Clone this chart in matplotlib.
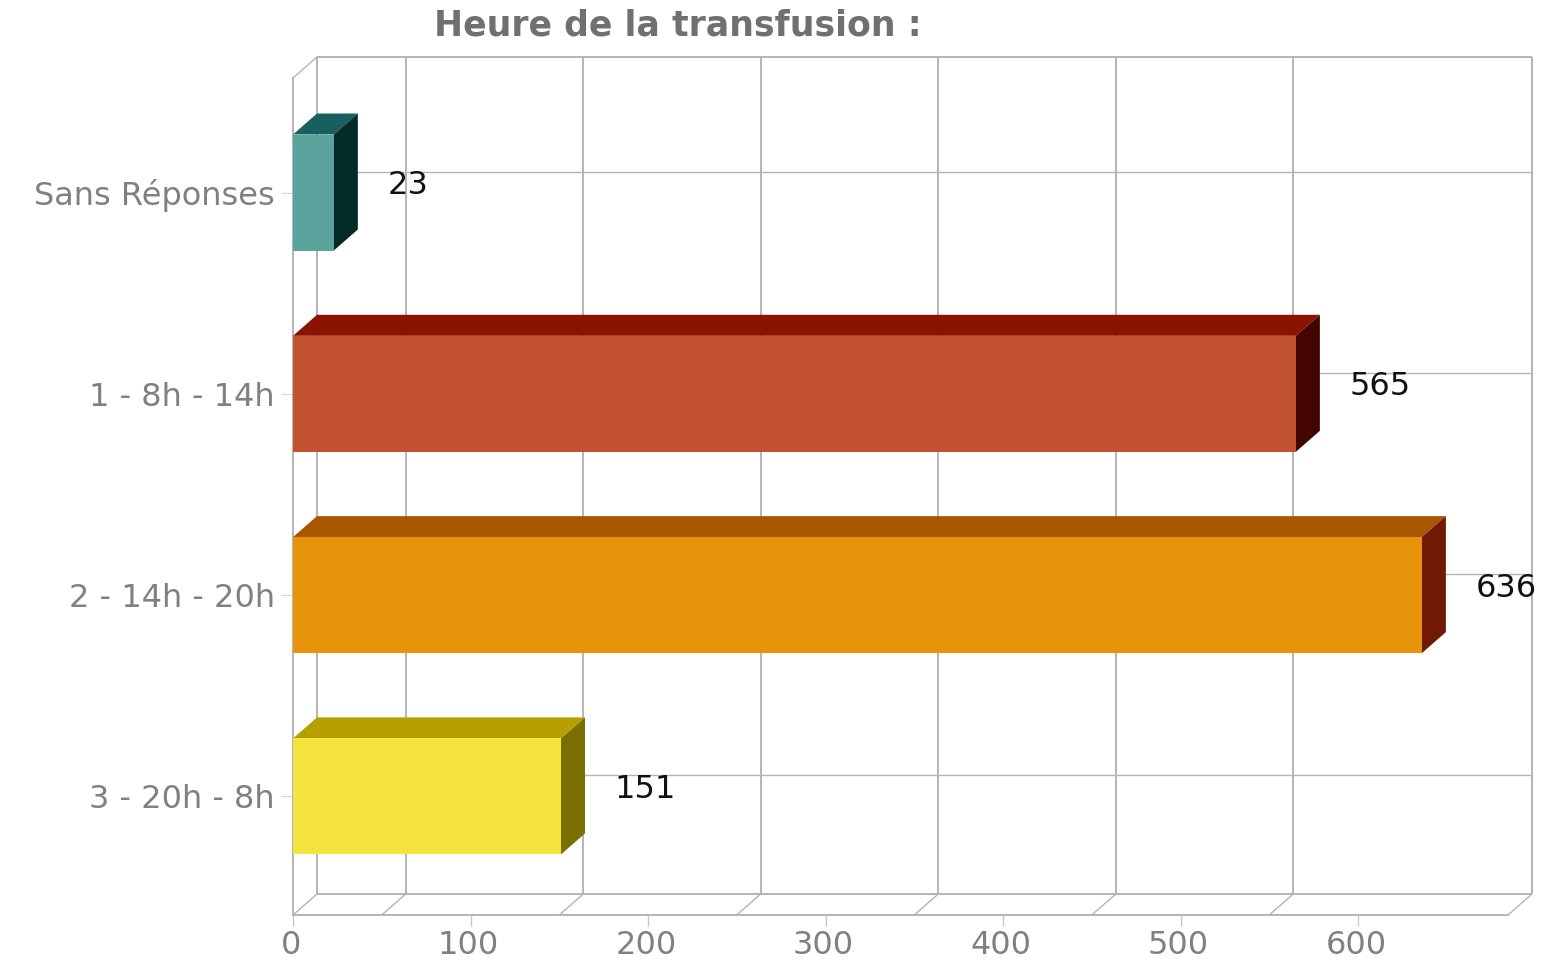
import matplotlib
matplotlib.use("Agg")
import matplotlib.pyplot as plt
from matplotlib.patches import Polygon
from matplotlib.transforms import ScaledTranslation
import numpy as np

plt.rcParams["font.family"] = ["DejaVu Sans"]

categories = ["Sans Réponses", "1 - 8h - 14h", "2 - 14h - 20h", "3 - 20h - 8h"]
values = [23, 565, 636, 151]
front_colors = ["#5AA39C", "#C25230", "#E8940A", "#F5E33F"]
top_colors = ["#17605F", "#8B1400", "#AA5600", "#B5A000"]
side_colors = ["#042A28", "#420500", "#701A05", "#7A6E00"]
title = "Heure de la transfusion :"

W, H = 1549, 963
GRID = "#B4B4B4"
TXT = "#808080"
fig = plt.figure(figsize=(W / 100, H / 100), dpi=100, facecolor="white")
L, R, T, B = 293, 1508, 78, 915
ax = fig.add_axes([L / W, 1 - B / H, (R - L) / W, (B - T) / H])
PX, PY = 1.775, 201.3
ax.set_xlim(0, (R - L) / PX)
ax.set_ylim((B - 192.5) / PY, (T - 192.5) / PY)
dx, dy = 24 / PX, -21 / PY      # 3D depth in data units
x0, x1 = ax.get_xlim()
y_bot, y_top = ax.get_ylim()
ax.set_facecolor("none")
lw = 1.4
ln = dict(color=GRID, lw=lw, clip_on=False, zorder=1, solid_capstyle="butt")

# back wall
ax.plot([x0 + dx, x1 + dx], [y_top + dy] * 2, **ln)
ax.plot([x0 + dx, x1 + dx], [y_bot + dy] * 2, **ln)
ax.plot([x0 + dx] * 2, [y_bot + dy, y_top + dy], **ln)
ax.plot([x1 + dx] * 2, [y_bot + dy, y_top + dy], **ln)
# side and floor edges
ax.plot([x0, x0 + dx], [y_top, y_top + dy], **{**ln, "lw": 1.0})
ax.plot([x0, x0 + dx], [y_bot, y_bot + dy], **{**ln, "lw": 1.0})
ax.plot([x1, x1 + dx], [y_bot, y_bot + dy], **{**ln, "lw": 1.0})
# vertical grid on the wall with floor diagonals
for g in np.arange(50, 600, 100):
    ax.plot([g + dx] * 2, [y_bot + dy, y_top + dy], **ln)
    ax.plot([g, g + dx], [y_bot, y_bot + dy], **{**ln, "lw": 1.0})
# horizontal grid on the wall
for i in range(len(categories)):
    ax.plot([x0 + dx, x1 + dx], [i + dy] * 2, **{**ln, "lw": 1.0})

# bars
h = 116 / PY
pos = np.arange(len(categories))
ax.barh(pos, values, height=h, color=front_colors, zorder=4)
for i, v in enumerate(values):
    t, b = i - h / 2, i + h / 2
    ax.add_patch(Polygon([(0, t), (v, t), (v + dx, t + dy), (dx, t + dy)],
                         closed=True, fc=top_colors[i], ec="none", zorder=3, clip_on=False))
    ax.add_patch(Polygon([(v, t), (v + dx, t + dy), (v + dx, b + dy), (v, b)],
                         closed=True, fc=side_colors[i], ec="none", zorder=3, clip_on=False))
    ax.annotate(str(v), (v, i), xytext=(38.5, 5), textcoords="offset points",
                ha="left", va="center", fontsize=23, color="#111111", zorder=6,
                annotation_clip=False)

ax.set_yticks(pos, categories)
ax.set_xticks(np.arange(0, 700, 100))
ax.tick_params(axis="x", length=8, width=1.0, color="#C8C8C8", labelcolor=TXT, labelsize=23, pad=3)
ax.tick_params(axis="y", length=9, width=0.8, color="#D8D8D8", labelcolor=TXT, labelsize=23, pad=4)
shift_y = ScaledTranslation(0, -2.5 / 72, fig.dpi_scale_trans)
shift_x = ScaledTranslation(-1.5 / 72, 0, fig.dpi_scale_trans)
for lab in ax.get_yticklabels():
    lab.set_verticalalignment("center")
    lab.set_transform(lab.get_transform() + shift_y)
for lab in ax.get_xticklabels():
    lab.set_transform(lab.get_transform() + shift_x)
for s in ("top", "right"):
    ax.spines[s].set_visible(False)
for s in ("left", "bottom"):
    ax.spines[s].set_color(GRID)
    ax.spines[s].set_linewidth(lw)
    ax.spines[s].set_zorder(2)

fig.text(678 / W, 1 - 25 / H, title, ha="center", va="center",
         fontsize=25, fontweight="bold", color="#707070")
fig.savefig("out.png", dpi=100, facecolor="white")
